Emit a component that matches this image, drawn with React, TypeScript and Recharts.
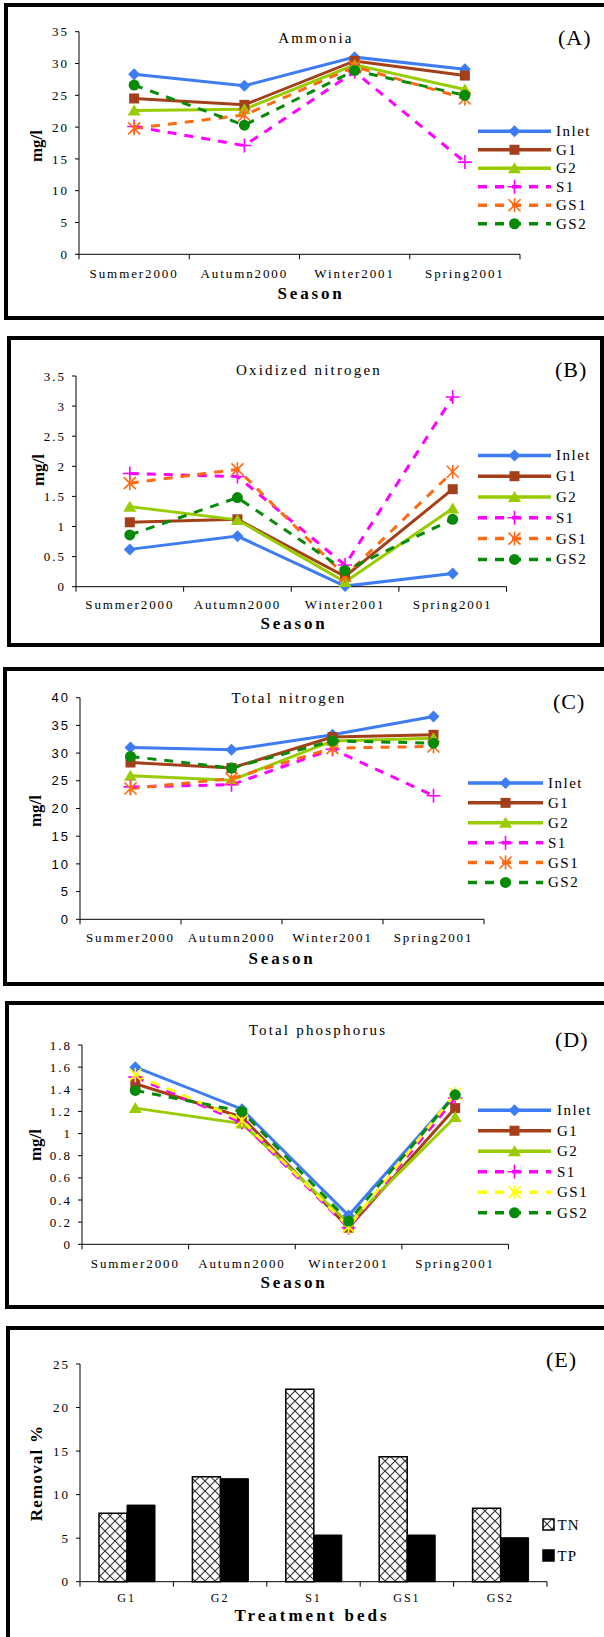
import React from 'react';
import { LineChart, Line, BarChart, Bar, XAxis, YAxis, Legend } from 'recharts';

const SERIF = '"Liberation Serif", "Times New Roman", serif';
const SANS = '"Liberation Sans", Arial, sans-serif';
const PAGE_W = 604;
const Y_W = 60;
const X_H = 30;

// ---- data ----
const SEASONS = ['Summer2000', 'Autumn2000', 'Winter2001', 'Spring2001'];
const SERIES_KEYS = ['Inlet', 'G1', 'G2', 'S1', 'GS1', 'GS2'];
const SEASON_TICKS = [0, 0.5, 1, 1.5, 2, 2.5, 3, 3.5, 4];

// (A) ammonia, mg/l
const nh3Inlet = [28.3, 26.5, 31.0, 29.1];
const nh3G1 = [24.5, 23.5, 30.4, 28.1];
const nh3G2 = [22.6, 22.8, 29.8, 25.9];
const nh3S1 = [20.1, 17.1, 28.7, 14.5];
const nh3GS1 = [19.8, 21.9, 29.5, 24.5];
const nh3GS2 = [26.6, 20.3, 28.9, 25.0];
const NH3_TICKS = [0, 5, 10, 15, 20, 25, 30, 35];

// (B) oxidized nitrogen
const noxInlet = [0.62, 0.84, 0.01, 0.22];
const noxG1 = [1.07, 1.12, 0.17, 1.62];
const noxG2 = [1.33, 1.11, 0.08, 1.3];
const noxS1 = [1.88, 1.83, 0.36, 3.15];
const noxGS1 = [1.72, 1.95, 0.18, 1.91];
const noxGS2 = [0.86, 1.48, 0.27, 1.12];
const NOX_TICKS = [0, 0.5, 1, 1.5, 2, 2.5, 3, 3.5];

// (C) total nitrogen
const tnInlet = [31.0, 30.6, 33.3, 36.6];
const tnG1 = [28.3, 27.3, 32.9, 33.3];
const tnG2 = [25.9, 25.1, 32.2, 32.7];
const tnS1 = [23.9, 24.3, 30.7, 22.3];
const tnGS1 = [23.6, 25.4, 30.9, 31.2];
const tnGS2 = [29.4, 27.3, 32.2, 31.8];
const TN_TICKS = [0, 5, 10, 15, 20, 25, 30, 35, 40];

// (D) total phosphorus
const tpInlet = [1.6, 1.22, 0.26, 1.35];
const tpG1 = [1.45, 1.15, 0.15, 1.23];
const tpG2 = [1.23, 1.09, 0.19, 1.15];
const tpS1 = [1.51, 1.1, 0.15, 1.32];
const tpGS1 = [1.53, 1.12, 0.16, 1.36];
const tpGS2 = [1.39, 1.2, 0.21, 1.35];
const TP_TICKS = [0, 0.2, 0.4, 0.6, 0.8, 1, 1.2, 1.4, 1.6, 1.8];

// (E) removal %
const BEDS = ['G1', 'G2', 'S1', 'GS1', 'GS2'];
const removalTN = [7.85, 12.05, 22.1, 14.35, 8.43];
const removalTP = [8.8, 11.83, 5.36, 5.36, 5.05];
const REMOVAL_TICKS = [0, 5, 10, 15, 20, 25];

const toRows = (cols: number[][]) =>
  SEASONS.map((season, i) => {
    const row: Record<string, number | string> = { x: i + 0.5, season };
    SERIES_KEYS.forEach((k, j) => {
      row[k] = cols[j][i];
    });
    return row;
  });

const removalRows = BEDS.map((bed, i) => ({ bed, TN: removalTN[i], TP: removalTP[i] }));

// ---- styles ----
const DASH = '9 8';
const LINE_SERIES = [
  { key: 'Inlet', color: '#3d7cf2', shape: 'diamond' },
  { key: 'G1', color: '#a3401a', shape: 'square' },
  { key: 'G2', color: '#99cc00', shape: 'triangle' },
  { key: 'S1', color: '#ff00ff', shape: 'plus', dash: DASH },
  { key: 'GS1', color: '#ff6a13', shape: 'star', dash: DASH },
  { key: 'GS2', color: '#078a07', shape: 'circle', dash: DASH },
];

type Plot = { x0: number; x1: number; y0: number; y1: number };

const marginOf = (top: number, h: number, p: Plot) => ({
  left: p.x0 - Y_W,
  right: PAGE_W - p.x1,
  top: p.y0 - top,
  bottom: top + h - p.y1 - X_H,
});

const PANELS = [
  {
    id: 'A',
    title: 'Ammonia',
    rows: toRows([nh3Inlet, nh3G1, nh3G2, nh3S1, nh3GS1, nh3GS2]),
    yMax: 35,
    yTicks: NH3_TICKS,
    yFont: SERIF,
    box: { left: 4, top: 3, width: 620, height: 317 },
    plot: { x0: 79, x1: 520, y0: 31.7, y1: 254.3 },
    titleAt: [316, 38],
    letterAt: [558, 38],
    yLabelAt: [36, 146],
    xLabelAt: [311, 293],
    tickDy: 18.7,
    legend: { x0: 478, x1: 551, textX: 556, y: 131.7, step: 18.5 },
  },
  {
    id: 'B',
    title: 'Oxidized nitrogen',
    rows: toRows([noxInlet, noxG1, noxG2, noxS1, noxGS1, noxGS2]),
    yMax: 3.5,
    yTicks: NOX_TICKS,
    yFont: SERIF,
    box: { left: 7, top: 336, width: 597, height: 311 },
    plot: { x0: 76, x1: 506.5, y0: 376, y1: 586.7 },
    titleAt: [309, 370],
    letterAt: [555, 370],
    yLabelAt: [38, 470],
    xLabelAt: [294, 623],
    tickDy: 17.3,
    legend: { x0: 478, x1: 551, textX: 556, y: 455, step: 20.8 },
  },
  {
    id: 'C',
    title: 'Total nitrogen',
    rows: toRows([tnInlet, tnG1, tnG2, tnS1, tnGS1, tnGS2]),
    yMax: 40,
    yTicks: TN_TICKS,
    yFont: SANS,
    box: { left: 3, top: 667, width: 620, height: 319 },
    plot: { x0: 80, x1: 484, y0: 697.7, y1: 919.3 },
    titleAt: [289, 698],
    letterAt: [553, 702],
    yLabelAt: [35, 811],
    xLabelAt: [282, 958],
    tickDy: 17.7,
    legend: { x0: 468, x1: 543, textX: 548, y: 782.7, step: 19.9 },
  },
  {
    id: 'D',
    title: 'Total phosphorus',
    rows: toRows([tpInlet, tpG1, tpG2, tpS1, tpGS1, tpGS2]),
    yMax: 1.8,
    yTicks: TP_TICKS,
    yFont: SERIF,
    gs1Color: '#ffff00',
    box: { left: 5, top: 1001, width: 620, height: 308 },
    plot: { x0: 82, x1: 508.5, y0: 1045, y1: 1244.3 },
    titleAt: [318, 1030],
    letterAt: [555, 1040],
    yLabelAt: [35, 1145],
    xLabelAt: [294, 1282],
    tickDy: 18.7,
    legend: { x0: 478, x1: 551, textX: 557, y: 1110, step: 20.5 },
  },
];

// ---- pieces ----
function Marker({ cx, cy, shape, color }: { cx: number; cy: number; shape: string; color: string }) {
  if (cx == null || cy == null) return null;
  switch (shape) {
    case 'diamond':
      return <polygon points={`${cx},${cy - 6} ${cx + 6},${cy} ${cx},${cy + 6} ${cx - 6},${cy}`} fill={color} />;
    case 'square':
      return <rect x={cx - 5} y={cy - 5} width={10} height={10} fill={color} />;
    case 'triangle':
      return <polygon points={`${cx},${cy - 6} ${cx + 6.5},${cy + 5} ${cx - 6.5},${cy + 5}`} fill={color} />;
    case 'plus':
      return <path d={`M${cx - 7},${cy}H${cx + 7}M${cx},${cy - 7}V${cy + 7}`} stroke={color} strokeWidth={1.6} />;
    case 'star':
      return (
        <path
          d={`M${cx - 6},${cy - 6}L${cx + 6},${cy + 6}M${cx + 6},${cy - 6}L${cx - 6},${cy + 6}M${cx},${cy - 7}V${cy + 7}`}
          stroke={color}
          strokeWidth={1.6}
        />
      );
    default:
      return <circle cx={cx} cy={cy} r={5.5} fill={color} />;
  }
}

function SeasonTick({ x, y, payload, dy }: any) {
  if (Number.isInteger(payload.value)) {
    return <line x1={x} x2={x} y1={y} y2={y + 5} stroke="#000" />;
  }
  return (
    <text x={x} y={y + dy} textAnchor="middle" dominantBaseline="central" fontSize={13} fontFamily={SERIF} letterSpacing={1.9} fill="#000">
      {SEASONS[Math.floor(payload.value)]}
    </text>
  );
}

function SeriesLegend({ series, lg }: any) {
  const len = lg.x1 - lg.x0;
  return (
    <svg width={lg.textX - lg.x0 + 45} height={lg.step * series.length} style={{ display: 'block', overflow: 'visible' }}>
      {series.map((s: any, i: number) => {
        const cy = lg.step * (i + 0.5);
        return (
          <g key={s.key}>
            <line x1={0} x2={len} y1={cy} y2={cy} stroke={s.color} strokeWidth={3.5} strokeDasharray={s.dash} />
            <Marker cx={len / 2} cy={cy} shape={s.shape} color={s.color} />
            <text x={lg.textX - lg.x0} y={cy} dominantBaseline="central" fontFamily={SERIF} fontSize={15} letterSpacing={1.5} fill="#000">
              {s.key}
            </text>
          </g>
        );
      })}
    </svg>
  );
}

function Caption({ x, y, rotate, anchor = 'center', style, children }: any) {
  const tx = anchor === 'left' ? '0' : '-50%';
  return (
    <div
      style={{
        position: 'absolute',
        left: x,
        top: y,
        whiteSpace: 'nowrap',
        lineHeight: 1,
        fontFamily: SERIF,
        color: '#000',
        transform: `translate(${tx}, -50%)${rotate ? ` rotate(${rotate}deg)` : ''}`,
        ...style,
      }}
    >
      {children}
    </div>
  );
}

const boxStyle = (b: { left: number; top: number; width: number; height: number }) => ({
  position: 'absolute' as const,
  left: b.left,
  top: b.top,
  width: b.width,
  height: b.height,
  boxSizing: 'border-box' as const,
  border: '4px solid #000',
});

const yAxisProps = (font: string) => ({
  type: 'number' as const,
  width: Y_W,
  interval: 0 as const,
  tickSize: 4,
  tickMargin: 6,
  axisLine: { stroke: '#000' },
  tickLine: { stroke: '#000' },
  tick: { fill: '#000', fontSize: 13, fontFamily: font, letterSpacing: 2 },
});

const titleStyle = { fontSize: 15, letterSpacing: 2.2 };
const letterStyle = { fontSize: 22, letterSpacing: 1 };
const axisTitleStyle = { fontSize: 17, fontWeight: 'bold' as const, letterSpacing: 2.8 };

function SeasonPanel({ p }: any) {
  const series = LINE_SERIES.map((s) => (s.key === 'GS1' && p.gs1Color ? { ...s, color: p.gs1Color } : s));
  const m = marginOf(p.box.top, p.box.height, p.plot);
  return (
    <>
      <div style={boxStyle(p.box)} />
      <div style={{ position: 'absolute', left: 0, top: p.box.top }}>
        <LineChart width={PAGE_W} height={p.box.height} data={p.rows} margin={m}>
          <XAxis
            type="number"
            dataKey="x"
            domain={[0, 4]}
            ticks={SEASON_TICKS}
            interval={0}
            height={X_H}
            tickSize={0}
            tickMargin={0}
            tickLine={false}
            axisLine={{ stroke: '#000' }}
            tick={(t: any) => <SeasonTick {...t} dy={p.tickDy} />}
          />
          <YAxis {...yAxisProps(p.yFont)} domain={[0, p.yMax]} ticks={p.yTicks} />
          <Legend
            layout="vertical"
            align="center"
            verticalAlign="middle"
            wrapperStyle={{ left: p.legend.x0, top: p.legend.y - p.box.top - p.legend.step / 2, width: 130 }}
            content={() => <SeriesLegend series={series} lg={p.legend} />}
          />
          {series.map((s) => (
            <Line
              key={s.key}
              dataKey={s.key}
              stroke={s.color}
              strokeWidth={3}
              strokeDasharray={s.dash}
              isAnimationActive={false}
              activeDot={false}
              dot={(d: any) => <Marker key={`${s.key}-${d.index}`} cx={d.cx} cy={d.cy} shape={s.shape} color={s.color} />}
            />
          ))}
        </LineChart>
      </div>
      <Caption x={p.titleAt[0]} y={p.titleAt[1]} style={titleStyle}>{p.title}</Caption>
      <Caption x={p.letterAt[0]} y={p.letterAt[1]} anchor="left" style={letterStyle}>({p.id})</Caption>
      <Caption x={p.yLabelAt[0]} y={p.yLabelAt[1]} rotate={-90} style={{ fontSize: 17, fontWeight: 'bold' }}>mg/l</Caption>
      <Caption x={p.xLabelAt[0]} y={p.xLabelAt[1]} style={axisTitleStyle}>Season</Caption>
    </>
  );
}

function BedTick({ x, y, payload, index, band }: any) {
  return (
    <g>
      <line x1={x - band / 2} x2={x - band / 2} y1={y} y2={y + 5} stroke="#000" />
      {index === BEDS.length - 1 && <line x1={x + band / 2} x2={x + band / 2} y1={y} y2={y + 5} stroke="#000" />}
      <text x={x} y={y + 16.3} textAnchor="middle" dominantBaseline="central" fontSize={12} fontFamily={SERIF} letterSpacing={2} fill="#000">
        {payload.value}
      </text>
    </g>
  );
}

function RemovalLegend() {
  const rows = [
    { key: 'TN', fill: 'url(#hatchTN)' },
    { key: 'TP', fill: '#000' },
  ];
  return (
    <svg width={50} height={62} style={{ display: 'block' }}>
      {rows.map((r, i) => {
        const cy = 15.5 + i * 31;
        return (
          <g key={r.key}>
            <rect x={1} y={cy - 5.5} width={11} height={11} fill={r.fill} stroke="#000" strokeWidth={1.5} />
            <text x={15.5} y={cy} dominantBaseline="central" fontFamily={SERIF} fontSize={15} letterSpacing={1} fill="#000">
              {r.key}
            </text>
          </g>
        );
      })}
    </svg>
  );
}

function RemovalPanel() {
  const box = { left: 6, top: 1326, width: 620, height: 330 };
  const chartH = 311;
  const plot = { x0: 80, x1: 547, y0: 1364, y1: 1581.7 };
  const band = (plot.x1 - plot.x0) / BEDS.length;
  return (
    <>
      <div style={boxStyle(box)} />
      <div style={{ position: 'absolute', left: 0, top: box.top }}>
        <BarChart width={PAGE_W} height={chartH} data={removalRows} margin={marginOf(box.top, chartH, plot)} barGap={0}>
          <defs>
            <pattern id="hatchTN" width={10} height={10} patternUnits="userSpaceOnUse">
              <rect width={10} height={10} fill="#fff" />
              <path d="M0,0L10,10M10,0L0,10" stroke="#333" strokeWidth={1.1} />
            </pattern>
          </defs>
          <XAxis
            dataKey="bed"
            type="category"
            interval={0}
            height={X_H}
            tickSize={0}
            tickMargin={0}
            tickLine={false}
            axisLine={{ stroke: '#000' }}
            tick={(t: any) => <BedTick {...t} band={band} />}
          />
          <YAxis {...yAxisProps(SERIF)} domain={[0, 25]} ticks={REMOVAL_TICKS} />
          <Legend
            layout="vertical"
            align="center"
            verticalAlign="middle"
            wrapperStyle={{ left: 542, top: 1524 - box.top - 15.5, width: 50 }}
            content={() => <RemovalLegend />}
          />
          <Bar dataKey="TN" fill="url(#hatchTN)" stroke="#000" strokeWidth={1.5} barSize={28} isAnimationActive={false} />
          <Bar dataKey="TP" fill="#000" stroke="#000" strokeWidth={1} barSize={28} isAnimationActive={false} />
        </BarChart>
      </div>
      <Caption x={546} y={1360} anchor="left" style={letterStyle}>(E)</Caption>
      <Caption x={36} y={1473} rotate={-90} style={{ fontSize: 17, fontWeight: 'bold', letterSpacing: 1.2 }}>Removal %</Caption>
      <Caption x={312} y={1615} style={{ ...axisTitleStyle, letterSpacing: 3 }}>Treatment beds</Caption>
    </>
  );
}

export default function App() {
  return (
    <div
      style={{
        position: 'absolute',
        left: 0,
        top: 0,
        width: PAGE_W,
        height: 1637,
        overflow: 'hidden',
        background: '#fff',
        fontFamily: SERIF,
      }}
    >
      {PANELS.map((p) => (
        <SeasonPanel key={p.id} p={p} />
      ))}
      <RemovalPanel />
    </div>
  );
}
